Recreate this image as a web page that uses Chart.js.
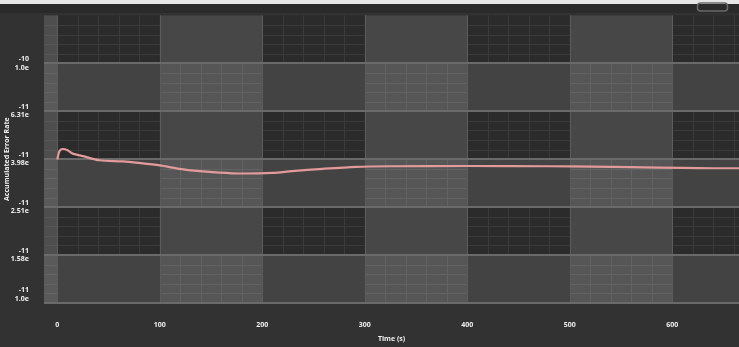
<!DOCTYPE html>
<html>
<head>
<meta charset="utf-8">
<script src="https://cdn.jsdelivr.net/npm/chart.js@4.4.1/dist/chart.umd.min.js"></script>
<style>
  html, body { margin: 0; padding: 0; background: #323232; }
  #wrap { width: 739px; height: 347px; position: relative; }
</style>
</head>
<body>
<div id="wrap"><canvas id="errChart" width="739" height="347"></canvas></div>
<script>
// time (s) and accumulated error rate
const times = [0, 2, 5, 10, 15, 25, 41, 64, 80, 100, 119, 139, 158, 178, 210, 229, 259, 292, 324, 400, 480, 520, 560, 610, 640, 665];
const errRate = [3.97e-11, 4.30e-11, 4.39e-11, 4.34e-11, 4.20e-11, 4.10e-11, 3.94e-11, 3.90e-11, 3.84e-11, 3.75e-11, 3.63e-11, 3.55e-11, 3.50e-11, 3.47e-11, 3.49e-11, 3.55e-11, 3.63e-11, 3.70e-11, 3.72e-11, 3.73e-11, 3.72e-11, 3.71e-11, 3.69e-11, 3.66e-11, 3.65e-11, 3.65e-11];

const xTicks = [0, 100, 200, 300, 400, 500, 600];
const yTicks = [1e-11, 1.585e-11, 2.512e-11, 3.981e-11, 6.310e-11, 1e-10];
const yMantissa = ['1.0e', '1.58e', '2.51e', '3.98e', '6.31e', '1.0e'];
const yExponent = ['-11', '-11', '-11', '-11', '-11', '-10'];
const yTop = 1.585e-10;
const colEdges = [-13, 0, 100, 200, 300, 400, 500, 600, 665];

const tickFont = { family: 'Open Sans', size: 7, weight: 'bold' };

const bandsPlugin = {
  id: 'bands',
  beforeDraw(chart) {
    const c = chart.ctx, w = chart.width;
    c.save();
    c.fillStyle = '#323232'; c.fillRect(0, 0, w, chart.height);
    c.fillStyle = '#e6e6e6'; c.fillRect(0, 0, w, 4);
    c.fillStyle = '#2a2a2a'; c.fillRect(0, 4, w, 9);
    // little button top right
    c.strokeStyle = '#6a6a6a'; c.lineWidth = 1.5;
    c.beginPath(); c.roundRect(697.5, 3, 30, 8, 3); c.stroke();
    c.restore();
  },
  beforeDatasetsDraw(chart) {
    const c = chart.ctx, xs = chart.scales.x, ys = chart.scales.y;
    const rowEdges = yTicks.concat([yTop]);
    c.save();
    for (let i = 0; i < colEdges.length - 1; i++) {
      const x0 = xs.getPixelForValue(colEdges[i]), x1 = xs.getPixelForValue(colEdges[i + 1]);
      const colLight = Math.floor(colEdges[i] / 100) % 2 !== 0;
      for (let j = 0; j < rowEdges.length - 1; j++) {
        const y0 = ys.getPixelForValue(rowEdges[j + 1]), y1 = ys.getPixelForValue(rowEdges[j]);
        const rowLight = j % 2 === 0;
        let fill, fine = null;
        if (colLight && rowLight) { fill = '#565656'; fine = '#626262'; }
        else if (colLight) { fill = '#474747'; }
        else if (rowLight) { fill = '#434343'; }
        else { fill = '#2b2b2b'; fine = '#3a3a3a'; }
        if (colEdges[i] < 0) { fill = rowLight ? '#5a5a5a' : '#4e4e4e'; fine = rowLight ? '#646464' : '#575757'; }
        c.fillStyle = fill;
        c.fillRect(x0, y0, x1 - x0, y1 - y0);
        if (fine) {
          c.strokeStyle = fine; c.lineWidth = 1;
          c.beginPath();
          if (colEdges[i] >= 0) {
            for (let k = 1; k < 5; k++) {
              const xx = Math.round(xs.getPixelForValue(colEdges[i] + k * 20)) + 0.5;
              if (xx < x1) { c.moveTo(xx, y0); c.lineTo(xx, y1); }
            }
          }
          for (let k = 1; k < 5; k++) {
            const yy = Math.round(y0 + (y1 - y0) * k / 5) + 0.5;
            c.moveTo(x0, yy); c.lineTo(x1, yy);
          }
          c.stroke();
        }
      }
    }
    // column boundaries
    c.strokeStyle = '#5c5c5c'; c.lineWidth = 1;
    c.beginPath();
    for (let i = 1; i < colEdges.length - 1; i++) {
      const xx = Math.round(xs.getPixelForValue(colEdges[i])) + 0.5;
      c.moveTo(xx, chart.chartArea.top); c.lineTo(xx, chart.chartArea.bottom);
    }
    c.stroke();
    // band boundaries
    c.strokeStyle = '#6a6a6a'; c.lineWidth = 2;
    c.beginPath();
    yTicks.forEach(v => {
      const yy = Math.round(ys.getPixelForValue(v));
      c.moveTo(chart.chartArea.left, yy); c.lineTo(chart.chartArea.right, yy);
    });
    c.stroke();
    c.restore();
  }
};

new Chart(document.getElementById('errChart'), {
  type: 'line',
  data: {
    datasets: [{
      data: times.map((t, i) => ({ x: t, y: errRate[i] })),
      borderColor: '#e29a9a',
      borderWidth: 2.2,
      pointRadius: 0,
      tension: 0.3
    }]
  },
  options: {
    responsive: false,
    animation: false,
    layout: { padding: { top: 13, left: 0, right: 0, bottom: 0 } },
    plugins: { legend: { display: false }, tooltip: { enabled: false } },
    scales: {
      x: {
        type: 'linear', min: -13, max: 665,
        grid: { display: false }, border: { display: false },
        afterBuildTicks: axis => { axis.ticks = xTicks.map(v => ({ value: v })); },
        afterFit: axis => { axis.height = 44; },
        ticks: { color: '#f0f0f0', font: tickFont, padding: 10, maxRotation: 0 },
        title: { display: true, text: 'Time (s)', color: '#f0f0f0', font: tickFont, padding: { top: 4 } }
      },
      y: {
        type: 'logarithmic', min: 1e-11, max: yTop,
        grid: { display: false }, border: { display: false },
        afterBuildTicks: axis => { axis.ticks = yTicks.map(v => ({ value: v })); },
        afterFit: axis => { axis.width = 44; },
        ticks: {
          color: '#f0f0f0', font: tickFont, padding: 7,
          callback: (v, i) => i === 0 ? [yExponent[i], yMantissa[i], '', ''] : [yExponent[i], yMantissa[i]]
        },
        title: { display: true, text: 'Accumulated Error Rate', color: '#f0f0f0', font: { family: 'Open Sans', size: 7, weight: 'bold' }, padding: { top: 3, bottom: 0 } }
      }
    }
  },
  plugins: [bandsPlugin]
});
</script>
</body>
</html>
